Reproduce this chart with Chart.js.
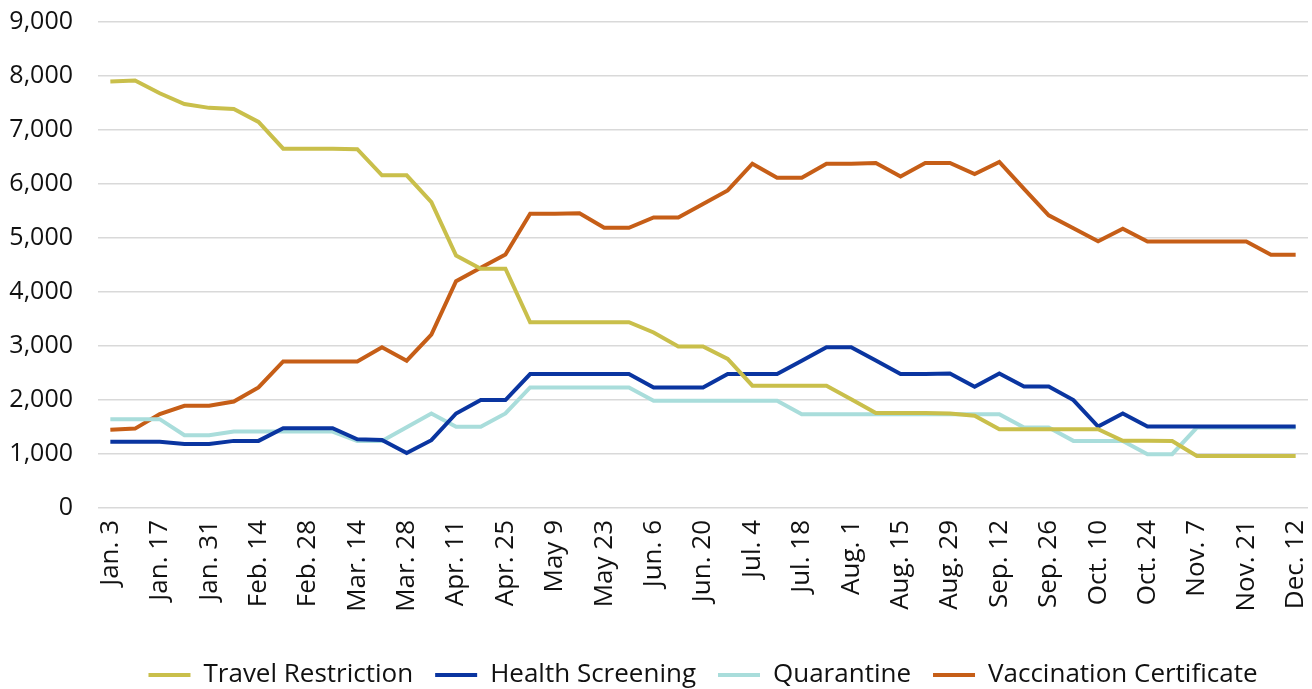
<!DOCTYPE html>
<html>
<head>
<meta charset="utf-8">
<script src="https://cdn.jsdelivr.net/npm/chart.js@4.4.1/dist/chart.umd.min.js"></script>
<style>
  html, body { margin:0; padding:0; background:#fff; }
  #wrap { width:1312px; height:689px; position:relative; }
</style>
</head>
<body>
<div id="wrap"><canvas id="measuresChart"></canvas></div>
<script>
const weeks = [
  'Jan. 3','Jan. 10','Jan. 17','Jan. 24','Jan. 31','Feb. 7','Feb. 14','Feb. 21','Feb. 28','Mar. 7',
  'Mar. 14','Mar. 21','Mar. 28','Apr. 4','Apr. 11','Apr. 18','Apr. 25','May 2','May 9','May 16',
  'May 23','May 30','Jun. 6','Jun. 13','Jun. 20','Jun. 27','Jul. 4','Jul. 11','Jul. 18','Jul. 25',
  'Aug. 1','Aug. 8','Aug. 15','Aug. 22','Aug. 29','Sep. 5','Sep. 12','Sep. 19','Sep. 26','Oct. 3',
  'Oct. 10','Oct. 17','Oct. 24','Oct. 31','Nov. 7','Nov. 14','Nov. 21','Nov. 28','Dec. 12'
];

const travelRestriction = [
  7900,7915,7680,7480,7410,7390,7150,6655,6655,6655,
  6645,6160,6160,5665,4675,4430,4430,3440,3440,3440,
  3440,3440,3250,2990,2990,2760,2265,2265,2265,2265,
  2015,1760,1760,1760,1750,1710,1460,1460,1460,1460,
  1460,1245,1245,1240,965,965,965,965,965
];

const healthScreening = [
  1225,1225,1225,1187,1187,1243,1243,1478,1478,1478,
  1273,1260,1020,1255,1750,1998,1998,2480,2480,2480,
  2480,2480,2232,2232,2232,2480,2480,2480,2727,2975,
  2975,2730,2480,2480,2490,2245,2490,2250,2250,1998,
  1508,1750,1508,1508,1508,1508,1508,1508,1508
];

const quarantine = [
  1645,1645,1645,1348,1348,1415,1415,1415,1415,1415,
  1243,1243,1497,1750,1503,1503,1750,2232,2232,2232,
  2232,2232,1985,1985,1985,1985,1985,1985,1738,1738,
  1738,1738,1738,1738,1738,1738,1738,1490,1490,1243,
  1243,1243,996,996,1490,1490,1490,1490,1490
];

const vaccinationCertificate = [
  1447,1470,1738,1892,1892,1972,2232,2715,2715,2715,
  2715,2975,2727,3210,4200,4450,4695,5450,5450,5460,
  5190,5190,5380,5380,5630,5880,6375,6115,6115,6375,
  6375,6390,6140,6390,6390,6185,6410,5910,5420,5180,
  4940,5170,4935,4935,4935,4935,4935,4690,4690
];

const COLORS = {
  travel: '#C9BF4B',
  health: '#0A35A0',
  quarantine: '#A9DDDB',
  vaccination: '#C65E17'
};

const FONT = '"Open Sans", "DejaVu Sans", sans-serif';

function series(label, data, color){
  return {
    label, data,
    borderColor: color,
    backgroundColor: color,
    borderWidth: 4,
    pointRadius: 0,
    pointHoverRadius: 0,
    tension: 0,
    fill: false
  };
}

new Chart(document.getElementById('measuresChart'), {
  type: 'line',
  data: {
    labels: weeks,
    datasets: [
      series('Travel Restriction', travelRestriction, COLORS.travel),
      series('Health Screening', healthScreening, COLORS.health),
      series('Quarantine', quarantine, COLORS.quarantine),
      series('Vaccination Certificate', vaccinationCertificate, COLORS.vaccination)
    ]
  },
  options: {
    responsive: true,
    maintainAspectRatio: false,
    animation: false,
    layout: { padding: { left: 0, right: 4, top: 22, bottom: -9 } },
    plugins: {
      tooltip: { enabled: false },
      legend: {
        position: 'bottom',
        fullSize: false,
        labels: {
          color: '#111',
          font: { family: FONT, size: 26 },
          boxWidth: 42,
          boxHeight: 4,
          padding: 22,
          generateLabels(chart){
            return Chart.defaults.plugins.legend.labels.generateLabels(chart).map(l=>{
              l.lineWidth = 0;
              l.fillStyle = l.strokeStyle;
              return l;
            });
          }
        }
      }
    },
    scales: {
      x: {
        offset: true,
        grid: { display: false, drawTicks: false },
        border: { display: false },
        ticks: {
          color: '#111',
          font: { family: FONT, size: 26 },
          autoSkip: false,
          minRotation: 90,
          maxRotation: 90,
          padding: 12,
          callback(v, i){ return i % 2 === 0 ? weeks[i] : ''; }
        },
        afterFit(scale){
          scale.paddingLeft = 0;
          scale.paddingRight = 0;
          scale.height = 132;
        }
      },
      y: {
        min: 0,
        max: 9000,
        grid: { color: '#D9D9D9', lineWidth: 1.5, drawTicks: false },
        border: { display: false },
        ticks: {
          stepSize: 1000,
          color: '#111',
          font: { family: FONT, size: 25 },
          padding: 25,
          callback(v){ return v.toLocaleString('en-US'); }
        },
        afterFit(scale){
          scale.paddingTop = 0;
          scale.paddingBottom = 0;
          scale.width = 98;
        }
      }
    }
  }
});
</script>
</body>
</html>
